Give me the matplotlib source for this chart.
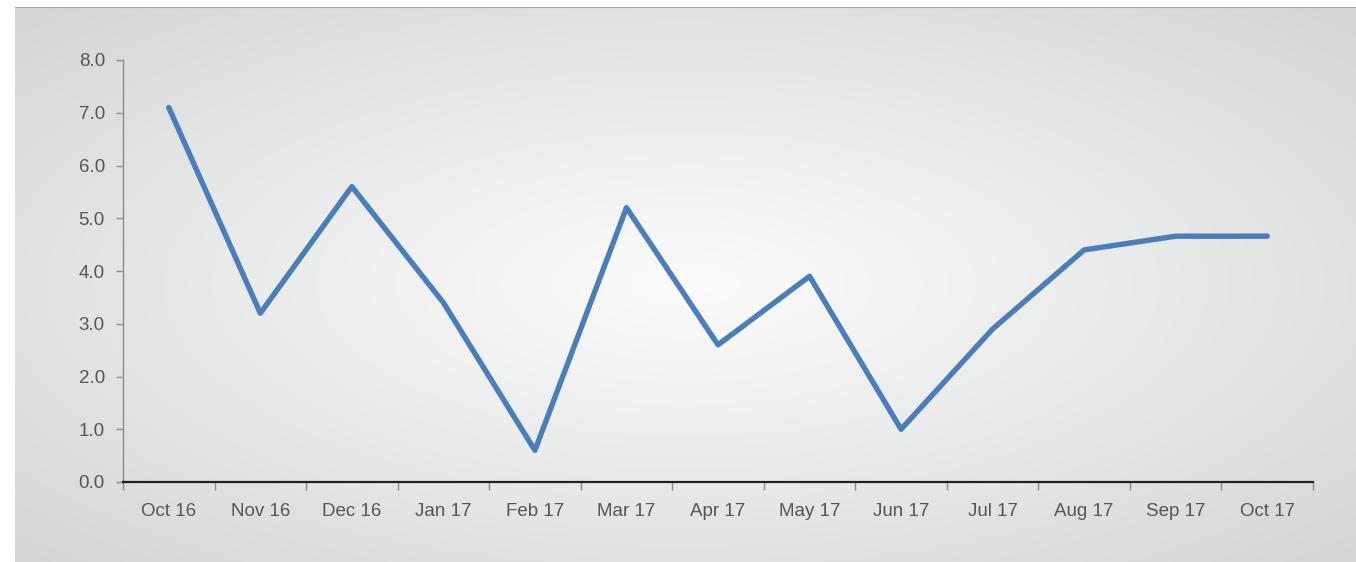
import numpy as np
import matplotlib
matplotlib.use("Agg")
import matplotlib.pyplot as plt
from matplotlib.colors import LinearSegmentedColormap

months = ["Oct 16", "Nov 16", "Dec 16", "Jan 17", "Feb 17", "Mar 17", "Apr 17",
          "May 17", "Jun 17", "Jul 17", "Aug 17", "Sep 17", "Oct 17"]
values = [7.1, 3.2, 5.6, 3.4, 0.6, 5.2, 2.6, 3.9, 1.0, 2.9, 4.4, 4.66, 4.66]
y_ticks = [0, 1, 2, 3, 4, 5, 6, 7, 8]

W, H, DPI = 1356, 562, 100
fig = plt.figure(figsize=(W / DPI, H / DPI), dpi=DPI)
fig.patch.set_facecolor("white")

# Radial gradient panel behind the chart
px0, px1, py0, py1 = 15, W, 7, H
bg = fig.add_axes([px0 / W, 0, (px1 - px0) / W, (H - py0) / H], zorder=0)
gx = np.linspace(-1, 1, 600)
gy = np.linspace(-1, 1, 300)
X, Y = np.meshgrid(gx, gy)
R = np.sqrt(X ** 2 + Y ** 2) / np.sqrt(2)
cmap = LinearSegmentedColormap.from_list("panel", ["#fbfbfb", "#e8e9e9", "#d4d5d6"])
bg.imshow(R, cmap=cmap, aspect="auto", extent=[0, 1, 0, 1], vmin=0, vmax=1)
bg.axhline(1, color="#a9a9a9", lw=1.5)
bg.set_xlim(0, 1)
bg.set_ylim(0, 1)
bg.axis("off")

left, right = 123 / W, 1313 / W
bottom, top = 1 - 482 / H, 1 - 60 / H
ax = fig.add_axes([left, bottom, right - left, top - bottom], zorder=1)
ax.patch.set_alpha(0)

x = np.arange(len(months))
ax.plot(x, values, color="#4a7ebb", lw=3.9, solid_joinstyle="round",
        solid_capstyle="round", zorder=3)

ax.set_xlim(-0.5, len(months) - 0.5)
ax.set_ylim(0, 8)
ax.set_yticks(y_ticks)
ax.set_yticklabels([f"{v:.1f}" for v in y_ticks])
ax.set_xticks(x)
ax.set_xticklabels(months)
ax.set_xticks(np.arange(-0.5, len(months)), minor=True)

for s in ["top", "right"]:
    ax.spines[s].set_visible(False)
ax.spines["left"].set_color("#8a8a8a")
ax.spines["left"].set_linewidth(1.0)
ax.spines["bottom"].set_color("#222222")
ax.spines["bottom"].set_linewidth(1.6)

ax.tick_params(axis="y", direction="out", length=5, width=1, color="#8a8a8a",
               labelsize=13.5, labelcolor="#555555", pad=8)
ax.tick_params(axis="x", which="major", length=0, labelsize=13.5,
               labelcolor="#555555", pad=15)
ax.tick_params(axis="x", which="minor", direction="out", length=6, width=1,
               color="#8a8a8a")

for lab in ax.get_xticklabels() + ax.get_yticklabels():
    lab.set_fontfamily(["Liberation Sans", "DejaVu Sans"])

fig.savefig("out.png", dpi=DPI)
